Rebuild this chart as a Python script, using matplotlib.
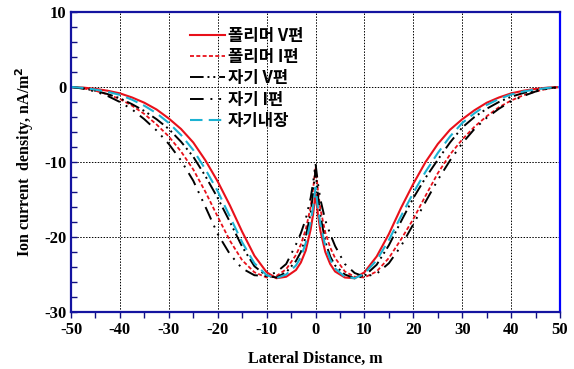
import matplotlib
matplotlib.use("Agg")
import matplotlib.pyplot as plt
from matplotlib.ticker import MultipleLocator

plt.rcParams["axes.unicode_minus"] = False

# lateral positions (m)
x = [-50, -47.5, -45, -42.5, -40, -37.5, -35, -32.5, -30, -27.5, -25, -22.5, -20, -17.5, -15, -12.5,
     -10, -8, -6, -4, -3, -2, -1, -0.5, 0,
     0.5, 1, 2, 3, 4, 6, 8, 10,
     12.5, 15, 17.5, 20, 22.5, 25, 27.5, 30, 32.5, 35, 37.5, 40, 42.5, 45, 47.5, 50]

# ion current density (nA/m^2)
polymer_v = [0, -0.08, -0.25, -0.5, -0.85, -1.4, -2.1, -3.0, -4.2, -5.6, -7.4, -9.8, -12.6, -15.8, -19.3, -22.5,
             -24.7, -25.5, -25.3, -24.4, -23.4, -21.8, -19.0, -17.0, -14.2,
             -17.0, -19.2, -22.0, -23.6, -24.6, -25.4, -25.5, -24.7,
             -22.6, -19.6, -16.1, -12.9, -10.0, -7.6, -5.7, -4.3, -3.1, -2.1, -1.4, -0.85, -0.5, -0.25, -0.08, 0]
polymer_i = [0, -0.18, -0.5, -1.0, -1.6, -2.5, -3.6, -5.0, -6.6, -8.6, -11.0, -14.0, -17.3, -20.5, -23.1, -24.7,
             -25.4, -25.2, -24.3, -22.4, -21.0, -19.0, -16.0, -13.6, -10.7,
             -13.8, -16.3, -19.4, -21.4, -22.8, -24.6, -25.3, -25.4,
             -24.6, -22.8, -20.3, -17.6, -14.5, -11.5, -9.0, -7.0, -5.3, -3.9, -2.7, -1.8, -1.1, -0.6, -0.22, 0]
porcelain_v = [0, -0.18, -0.5, -0.95, -1.5, -2.3, -3.2, -4.3, -5.6, -7.3, -9.3, -11.9, -14.8, -18.0, -21.3, -23.9,
               -25.2, -25.4, -24.7, -23.2, -22.0, -20.0, -16.8, -14.2, -11.1,
               -14.5, -17.2, -20.6, -22.6, -23.8, -25.0, -25.5, -25.2,
               -23.7, -21.1, -17.9, -14.8, -12.1, -9.7, -7.4, -5.4, -4.0, -2.9, -2.0, -1.3, -0.8, -0.45, -0.17, 0]
porcelain_i = [0, -0.22, -0.6, -1.2, -2.0, -3.0, -4.3, -5.8, -7.6, -9.8, -12.5, -16.0, -19.6, -22.3, -24.2, -25.1,
               -25.2, -24.7, -23.6, -21.0, -19.5, -17.6, -14.8, -12.8, -10.2,
               -12.9, -15.0, -17.8, -19.6, -21.2, -23.6, -24.8, -25.3,
               -24.9, -23.5, -21.2, -18.3, -15.3, -12.4, -9.8, -7.5, -5.6, -4.1, -2.9, -1.9, -1.2, -0.6, -0.22, 0]
porcelain_in = [0, -0.12, -0.35, -0.65, -1.05, -1.7, -2.5, -3.5, -4.8, -6.4, -8.4, -11.0, -13.9, -17.3, -20.7, -23.5,
                -25.1, -25.5, -25.0, -23.8, -22.7, -20.8, -18.0, -16.0, -13.4,
                -16.2, -18.3, -21.2, -23.0, -24.2, -25.3, -25.5, -24.9,
                -23.1, -20.4, -17.2, -14.1, -11.3, -8.8, -6.6, -4.8, -3.5, -2.4, -1.6, -1.0, -0.6, -0.33, -0.12, 0]

labels = ["폴리머 V편", "폴리머 I편", "자기 V편", "자기 I편", "자기내장"]

RED = "#e8101a"
CYAN = "#1cb2d2"
serif = "Liberation Serif"

fig = plt.figure(figsize=(5.74, 3.69), dpi=100)
ax = fig.add_axes([0.1237, 0.1545, 0.852, 0.813])

ax.plot(x, polymer_v, color=RED, lw=1.5, label=labels[0])
ax.plot(x, polymer_i, color=RED, lw=1.3, ls=(0, (2.2, 1.3)), label=labels[1])
ax.plot(x, porcelain_v, color="black", lw=1.4, ls=(0, (7, 2, 1, 2, 1, 2)), label=labels[2])
ax.plot(x, porcelain_i, color="black", lw=1.4, ls=(0, (7, 3.5, 1, 3.5, 1, 3.5)), label=labels[3])
ax.plot(x, porcelain_in, color=CYAN, lw=1.5, ls=(0, (6, 3)), label=labels[4])

ax.set_xlim(-50, 50)
ax.set_ylim(-30, 10)
ax.xaxis.set_major_locator(MultipleLocator(10))
ax.xaxis.set_minor_locator(MultipleLocator(5))
ax.yaxis.set_major_locator(MultipleLocator(10))
ax.yaxis.set_minor_locator(MultipleLocator(2))
ax.tick_params(axis="x", which="both", direction="out", length=4, width=1, color="#101080")
ax.tick_params(axis="y", which="both", direction="in", length=4, width=1, color="#101080")
ax.grid(True, which="major", color="black", ls=(0, (1.5, 1.5)), lw=0.7)

for s in ax.spines.values():
    s.set_color("#1414a0")
    s.set_linewidth(1.6)
ax.spines["right"].set_color("#0000ff")

for lab in ax.get_xticklabels() + ax.get_yticklabels():
    lab.set_fontfamily(serif)
    lab.set_fontweight("bold")
    lab.set_fontsize(12)

ax.set_xlabel("Lateral Distance, m", fontfamily=serif, fontweight="bold", fontsize=11.5, labelpad=9)
ax.set_ylabel("Ion current  density, nA/m$^\\mathbf{2}$", fontfamily=serif, fontweight="bold", fontsize=11.5, labelpad=6)

leg = ax.legend(loc="upper left", bbox_to_anchor=(0.22, 0.99), frameon=False,
                prop={"family": ["Noto Sans CJK KR", "DejaVu Sans"], "weight": "bold", "size": 12},
                handlelength=2.1, handletextpad=0.15, labelspacing=0.2, borderpad=0.2)

fig.savefig("out.png", dpi=100, facecolor="white")
